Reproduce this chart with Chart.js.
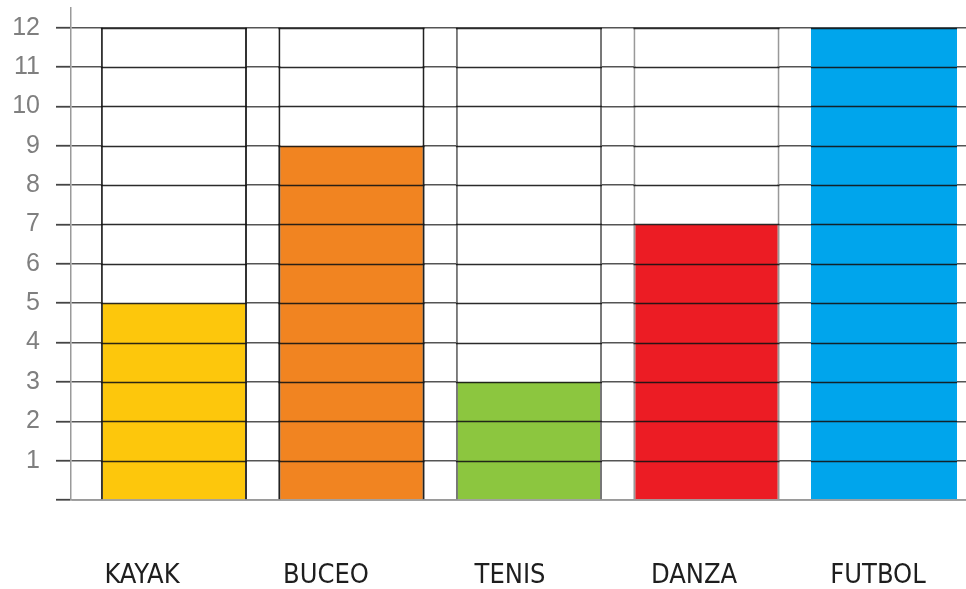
<!DOCTYPE html>
<html>
<head>
<meta charset="utf-8">
<script src="https://cdn.jsdelivr.net/npm/chart.js@4"></script>
<style>
  html, body { margin: 0; padding: 0; background: #fff; }
  #wrap { width: 966px; height: 589px; position: relative; }
</style>
</head>
<body>
<div id="wrap"><canvas id="chart"></canvas></div>
<script>
// --- Data ---
const categories = ['KAYAK', 'BUCEO', 'TENIS', 'DANZA', 'FUTBOL'];
const values = [5, 9, 3, 7, 12];
const columnTop = [12, 12, 12, 12, 12];   // white column behind every bar
const yTicks = [0, 1, 2, 3, 4, 5, 6, 7, 8, 9, 10, 11, 12];

// colours
const barColors = ['#FDC70C', '#F18421', '#8CC63F', '#EC1C24', '#00A5EC'];
const edgeColors = ['#333333', '#222222', '#777777', '#999999', '#00A5EC'];

// draws the solid black rules inside each column
const columnRules = {
  id: 'columnRules',
  afterDatasetsDraw(chart) {
    const ctx = chart.ctx;
    const y = chart.scales.y;
    const meta = chart.getDatasetMeta(1);
    ctx.save();
    ctx.strokeStyle = 'rgba(20,20,20,0.9)';
    ctx.lineWidth = 1.6;
    meta.data.forEach(bar => {
      const half = bar.width / 2;
      yTicks.forEach(v => {
        if (v === 0) return;
        const py = Math.round(y.getPixelForValue(v)) + 0.5;
        ctx.beginPath();
        ctx.moveTo(bar.x - half, py);
        ctx.lineTo(bar.x + half, py);
        ctx.stroke();
      });
    });
    ctx.restore();
  }
};

const ctx = document.getElementById('chart').getContext('2d');
new Chart(ctx, {
  type: 'bar',
  data: {
    datasets: [
      { // coloured bars (on top)
        data: values.map((v, i) => ({ x: i, y: v })),
        backgroundColor: barColors,
        borderColor: edgeColors,
        borderWidth: { left: 2, right: 2, top: 0, bottom: 0 },
        borderSkipped: false,
        grouped: false,
        order: 0,
        xAxisID: 'x'
      },
      { // white columns
        data: columnTop.map((v, i) => ({ x: i, y: v })),
        backgroundColor: '#ffffff',
        borderColor: edgeColors.map((c, i) => i === 4 ? '#bbbbbb' : c),
        borderWidth: { left: 2, right: 2, top: 0, bottom: 0 },
        borderSkipped: false,
        grouped: false,
        order: 1,
        xAxisID: 'x'
      }
    ]
  },
  options: {
    responsive: true,
    maintainAspectRatio: false,
    animation: false,
    layout: { padding: { top: 8, left: 0, right: 0, bottom: 0 } },
    categoryPercentage: 1,
    barPercentage: 0.823,
    plugins: { legend: { display: false }, tooltip: { enabled: false } },
    scales: {
      x: {
        type: 'linear',
        position: 'bottom',
        offset: false,
        min: -0.58,
        max: 4.462,
        afterBuildTicks: s => { s.ticks = []; },
        afterFit: s => { s.height = 0; s.paddingLeft = 0; s.paddingRight = 0; },
        ticks: { display: false },
        grid: { display: false, drawTicks: false, offset: false },
        border: { display: true, color: '#9a9a9a', width: 1.5 }
      },
      x2: {
        type: 'linear',
        position: 'bottom',
        offset: false,
        min: -0.386,
        max: 4.478,
        afterBuildTicks: s => { s.ticks = categories.map((c, i) => ({ value: i })); },
        afterFit: s => { s.height = 89; s.paddingLeft = 0; s.paddingRight = 0; },
        grid: { display: false, drawTicks: false, offset: false },
        border: { display: false },
        ticks: {
          autoSkip: false,
          maxRotation: 0,
          padding: 60,
          color: '#1e1e1e',
          font: { family: "'Liberation Sans Narrow', 'DejaVu Sans Condensed', sans-serif", size: 27 },
          callback: v => categories[v] || ''
        }
      },
      y: {
        min: 0,
        max: 12.5,
        afterBuildTicks: s => { s.ticks = yTicks.map(v => ({ value: v })); },
        afterFit: s => { s.width = 71; s.paddingTop = 0; s.paddingBottom = 0; },
        border: { display: true, color: '#9a9a9a', width: 1.5 },
        grid: {
          color: '#555',
          lineWidth: 1.5,
          borderDash: [4, 3],
          tickLength: 15,
          tickColor: '#444',
          tickWidth: 1.8,
          tickBorderDash: []
        },
        ticks: {
          padding: 16,
          color: '#7f7f7f',
          font: { family: 'Liberation Sans', size: 25 },
          callback: v => v === 0 ? '' : String(v)
        }
      }
    }
  },
  plugins: [columnRules]
});
</script>
</body>
</html>
